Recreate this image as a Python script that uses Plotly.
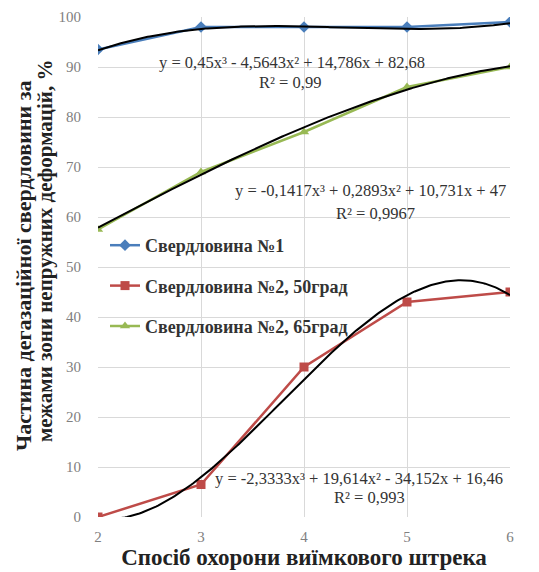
import numpy as np
import plotly.graph_objects as go

x_vals = [2, 3, 4, 5, 6]
s1_name = "Свердловина №1"
s1_vals = [93.5, 98, 98, 98, 99]
s2_name = "Свердловина №2, 50град"
s2_vals = [0, 6.5, 30, 43, 45]
s3_name = "Свердловина №2, 65град"
s3_vals = [57.5, 69, 77, 86, 90]

# trendline coefficients (Excel, x = point index 1..5), highest power first
c1 = [0.45, -4.5643, 14.786, 82.68]
c2 = [-2.3333, 19.614, -34.152, 16.46]
c3 = [-0.1417, 0.2893, 10.731, 47]

eq1 = "y = 0,45x³ - 4,5643x² + 14,786x + 82,68"
r1 = "R² = 0,99"
eq2 = "y = -2,3333x³ + 19,614x² - 34,152x + 16,46"
r2 = "R² = 0,993"
eq3 = "y = -0,1417x³ + 0,2893x² + 10,731x + 47"
r3 = "R² = 0,9967"

y_title_1 = "Частина дегазаційної свердловини за"
y_title_2 = "межами зони непружних деформацій, %"
x_title = "Спосіб охорони виїмкового штрека"

colors = ["#4a7ebb", "#be4b48", "#98b954"]
symbols = ["diamond", "square", "triangle-up"]
SERIF = "Liberation Serif"

fig = go.Figure()

for i, (name, vals) in enumerate([(s1_name, s1_vals), (s2_name, s2_vals), (s3_name, s3_vals)]):
    fig.add_trace(go.Scatter(x=x_vals, y=vals, mode="lines+markers", name="<b>" + name + "</b>",
                             legendgroup=name,
                             line=dict(color=colors[i], width=2.5),
                             marker=dict(color=colors[i], symbol=symbols[i], size=9)))

xs = np.linspace(2, 6, 200)
idx = xs - 1
for c in (c1, c2, c3):
    fig.add_trace(go.Scatter(x=xs, y=np.polyval(c, idx), mode="lines",
                             line=dict(color="black", width=2),
                             showlegend=False, hoverinfo="skip"))

ann_font = dict(family=SERIF, size=16.5, color="#333333")
annotations = [
    dict(x=3.88, y=90.9, text=eq1, xanchor="center"),
    dict(x=3.86, y=87.0, text=r1, xanchor="center"),
    dict(x=3.31, y=65.4, text=eq3, xanchor="left"),
    dict(x=4.69, y=60.8, text=r3, xanchor="center"),
    dict(x=3.12, y=7.8, text=eq2, xanchor="left"),
    dict(x=4.64, y=4.0, text=r2, xanchor="center"),
]
for a in annotations:
    fig.add_annotation(xref="x", yref="y", yanchor="middle", showarrow=False,
                       font=ann_font, **a)

# y-axis title as two rotated lines
fig.add_annotation(xref="paper", yref="paper", x=0, y=0.502, xshift=-75,
                   xanchor="center", yanchor="middle", textangle=-90, showarrow=False,
                   text="<b>" + y_title_1 + "</b>",
                   font=dict(family=SERIF, size=22, color="#222222"))
fig.add_annotation(xref="paper", yref="paper", x=0, y=0.532, xshift=-53,
                   xanchor="center", yanchor="middle", textangle=-90, showarrow=False,
                   text="<b>" + y_title_2 + "</b>",
                   font=dict(family=SERIF, size=21, color="#222222"))

fig.update_layout(
    width=539, height=572,
    margin=dict(l=90, r=37, t=9, b=63),
    paper_bgcolor="white", plot_bgcolor="white",
    font=dict(family=SERIF, color="#222222"),
    showlegend=True,
    legend=dict(x=0.017, y=0.58, xanchor="left", yanchor="top",
                bgcolor="rgba(0,0,0,0)", traceorder="grouped", tracegroupgap=14,
                font=dict(family=SERIF, size=18, color="#333333"),
                itemwidth=30),
    xaxis=dict(range=[2, 6], tickvals=x_vals, showgrid=True, gridcolor="#d9d9d9",
               zeroline=False, showline=False, ticks="", ticklabelstandoff=9,
               automargin=False,
               tickfont=dict(family=SERIF, size=15, color="#808080"),
               title=dict(text="<b>" + x_title + "</b>",
                          font=dict(family=SERIF, size=23, color="#222222"),
                          standoff=0)),
    yaxis=dict(range=[0, 100], tickvals=list(range(0, 101, 10)), showgrid=True,
               gridcolor="#d9d9d9", zeroline=False, showline=False,
               ticks="", ticklabelstandoff=16, automargin=False,
               tickfont=dict(family=SERIF, size=15, color="#808080")),
)

fig.write_html("out.html")
